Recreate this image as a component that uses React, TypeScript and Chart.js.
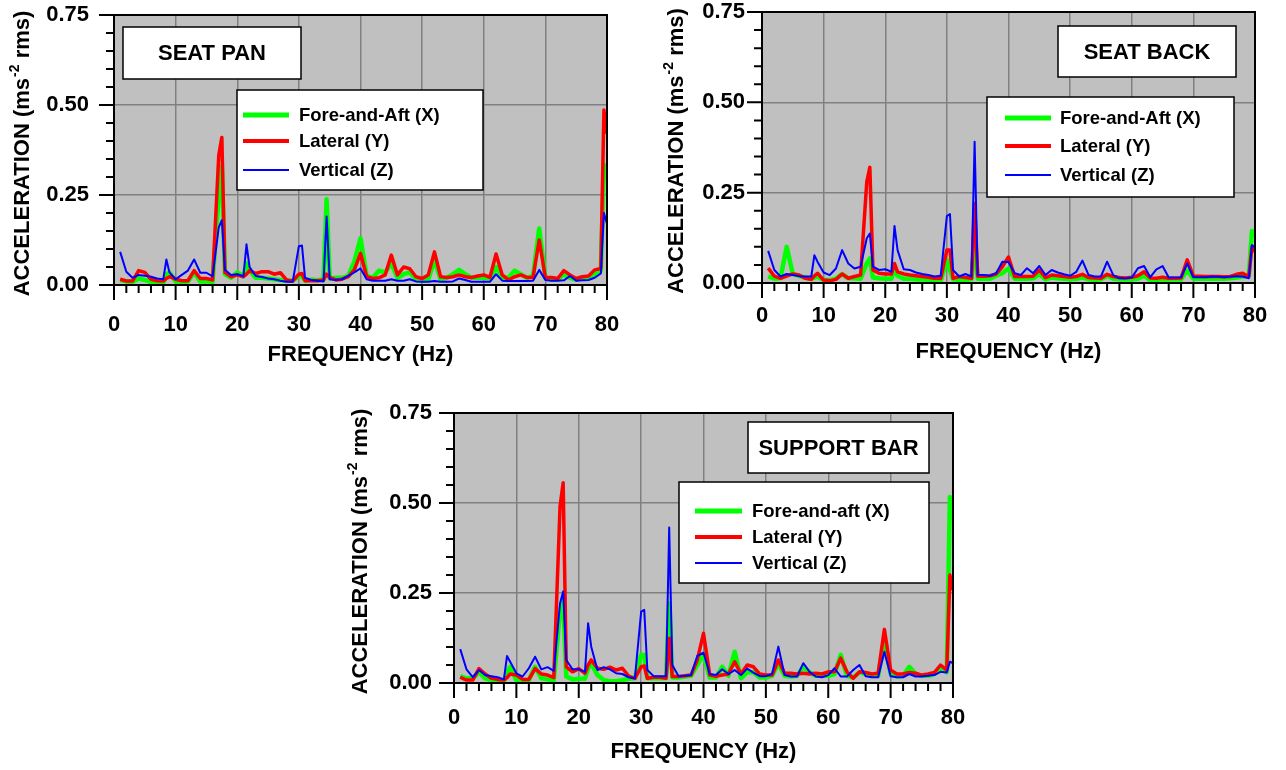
import React, { useEffect, useRef } from "react";
import { Chart, registerables } from "chart.js";

Chart.register(...registerables);

const FONT = '"Liberation Sans", Arial, Helvetica, sans-serif';
const GREEN = "#00ff00";
const RED = "#ff0000";
const BLUE = "#0000ff";

// Frequency grid (Hz), shared by all three measuring positions
const FREQ = [
  1, 2, 3, 4, 5, 6, 7, 8,
  8.5, 9, 10, 11, 12, 13, 14, 15, 16, 17,
  17.5, 18, 19, 20, 21,
  21.5, 22, 23, 24, 25, 26, 27, 28, 29, 30,
  30.5, 31, 32, 33, 34,
  34.5, 35, 36, 37, 38, 39, 40, 41, 42, 43, 44,
  45, 46, 47, 48, 49, 50, 51, 52, 53, 54,
  55, 56, 57, 58, 59, 60, 61, 62, 63, 64,
  65, 66, 67, 68, 69, 70, 71, 72, 73, 74,
  75, 76, 77, 78, 79,
  79.5, 80,
];

const X_TICK_STEP = 10;
const Y_TICK_STEP = 0.25;
const X_MAX = 80;
const Y_MAX = 0.75;

// Seat pan (ms^-2 rms)
const PAN_X = [
  0.014, 0.010, 0.008, 0.018, 0.014, 0.008, 0.006, 0.006,
  0.030, 0.035, 0.010, 0.008, 0.010, 0.035, 0.010, 0.010, 0.008, 0.250,
  0.330, 0.030, 0.020, 0.035, 0.025,
  0.060, 0.040, 0.020, 0.020, 0.018, 0.016, 0.014, 0.012, 0.012, 0.025,
  0.025, 0.012, 0.015, 0.013, 0.015,
  0.238, 0.018, 0.020, 0.020, 0.025, 0.065, 0.130, 0.025, 0.020, 0.040, 0.035,
  0.060, 0.020, 0.030, 0.035, 0.015, 0.012, 0.015, 0.070, 0.015, 0.020,
  0.030, 0.042, 0.030, 0.020, 0.020, 0.020, 0.018, 0.050, 0.020, 0.020,
  0.040, 0.030, 0.020, 0.025, 0.157, 0.020, 0.015, 0.015, 0.030, 0.020,
  0.015, 0.020, 0.020, 0.030, 0.040,
  0.333, 0.290,
];
const PAN_Y = [
  0.016, 0.011, 0.011, 0.040, 0.035, 0.016, 0.012, 0.011,
  0.018, 0.023, 0.016, 0.012, 0.012, 0.040, 0.018, 0.018, 0.014, 0.360,
  0.410, 0.035, 0.023, 0.028, 0.023,
  0.030, 0.040, 0.032, 0.037, 0.037, 0.030, 0.034, 0.014, 0.011, 0.030,
  0.032, 0.012, 0.012, 0.012, 0.014,
  0.030, 0.021, 0.014, 0.016, 0.023, 0.042, 0.088, 0.023, 0.018, 0.020, 0.028,
  0.083, 0.028, 0.050, 0.045, 0.023, 0.018, 0.028, 0.092, 0.023, 0.021,
  0.023, 0.028, 0.023, 0.021, 0.025, 0.028, 0.021, 0.086, 0.028, 0.014,
  0.023, 0.028, 0.021, 0.021, 0.125, 0.021, 0.021, 0.018, 0.040, 0.028,
  0.018, 0.023, 0.025, 0.042, 0.046,
  0.486, 0.420,
];
const PAN_Z = [
  0.092, 0.037, 0.020, 0.028, 0.026, 0.023, 0.018, 0.016,
  0.071, 0.035, 0.016, 0.028, 0.040, 0.071, 0.034, 0.034, 0.024, 0.160,
  0.180, 0.042, 0.028, 0.030, 0.024,
  0.113, 0.050, 0.025, 0.022, 0.018, 0.016, 0.012, 0.009, 0.009, 0.108,
  0.110, 0.020, 0.014, 0.012, 0.010,
  0.190, 0.016, 0.014, 0.016, 0.025, 0.035, 0.046, 0.016, 0.012, 0.012, 0.012,
  0.016, 0.012, 0.012, 0.016, 0.010, 0.009, 0.009, 0.011, 0.009, 0.009,
  0.010, 0.018, 0.014, 0.009, 0.009, 0.009, 0.009, 0.030, 0.012, 0.011,
  0.011, 0.011, 0.011, 0.012, 0.042, 0.014, 0.012, 0.012, 0.013, 0.025,
  0.012, 0.013, 0.014, 0.020, 0.032,
  0.200, 0.170,
];

// Seat back (ms^-2 rms)
const BACK_X = [
  0.018, 0.012, 0.013, 0.100, 0.025, 0.020, 0.015, 0.012,
  0.015, 0.018, 0.008, 0.008, 0.012, 0.025, 0.013, 0.013, 0.012, 0.054,
  0.068, 0.015, 0.013, 0.012, 0.012,
  0.040, 0.020, 0.012, 0.012, 0.010, 0.010, 0.008, 0.006, 0.006, 0.064,
  0.036, 0.010, 0.008, 0.008, 0.010,
  0.124, 0.012, 0.012, 0.012, 0.020, 0.027, 0.040, 0.012, 0.012, 0.012, 0.013,
  0.025, 0.010, 0.015, 0.013, 0.012, 0.010, 0.012, 0.015, 0.010, 0.008,
  0.010, 0.020, 0.012, 0.010, 0.010, 0.010, 0.012, 0.020, 0.008, 0.008,
  0.010, 0.010, 0.010, 0.010, 0.035, 0.012, 0.012, 0.012, 0.012, 0.012,
  0.012, 0.013, 0.015, 0.018, 0.020,
  0.144, 0.126,
];
const BACK_Y = [
  0.041, 0.019, 0.013, 0.019, 0.025, 0.022, 0.013, 0.010,
  0.020, 0.027, 0.008, 0.006, 0.010, 0.025, 0.013, 0.018, 0.022, 0.280,
  0.320, 0.036, 0.027, 0.025, 0.025,
  0.054, 0.031, 0.025, 0.022, 0.020, 0.018, 0.016, 0.013, 0.013, 0.091,
  0.091, 0.013, 0.018, 0.015, 0.013,
  0.220, 0.019, 0.019, 0.020, 0.025, 0.045, 0.072, 0.018, 0.018, 0.018, 0.019,
  0.036, 0.015, 0.022, 0.020, 0.018, 0.016, 0.018, 0.024, 0.015, 0.014,
  0.013, 0.024, 0.018, 0.015, 0.014, 0.016, 0.020, 0.031, 0.014, 0.013,
  0.016, 0.013, 0.013, 0.014, 0.064, 0.019, 0.019, 0.018, 0.018, 0.018,
  0.017, 0.018, 0.024, 0.027, 0.018,
  0.100, 0.086,
];
const BACK_Z = [
  0.089, 0.036, 0.018, 0.025, 0.022, 0.019, 0.018, 0.018,
  0.077, 0.059, 0.029, 0.022, 0.040, 0.091, 0.054, 0.040, 0.045, 0.124,
  0.137, 0.045, 0.036, 0.038, 0.031,
  0.158, 0.091, 0.038, 0.036, 0.029, 0.025, 0.022, 0.018, 0.020, 0.185,
  0.191, 0.036, 0.018, 0.025, 0.018,
  0.391, 0.022, 0.022, 0.020, 0.027, 0.059, 0.058, 0.027, 0.022, 0.041, 0.027,
  0.047, 0.022, 0.036, 0.029, 0.024, 0.020, 0.031, 0.062, 0.022, 0.018,
  0.018, 0.059, 0.022, 0.013, 0.013, 0.015, 0.041, 0.047, 0.016, 0.038,
  0.047, 0.015, 0.015, 0.016, 0.054, 0.016, 0.016, 0.016, 0.018, 0.017,
  0.016, 0.018, 0.019, 0.018, 0.013,
  0.105, 0.098,
];

// Support bar (ms^-2 rms)
const BAR_X = [
  0.019, 0.013, 0.013, 0.030, 0.013, 0.008, 0.006, 0.005,
  0.030, 0.045, 0.008, 0.006, 0.008, 0.045, 0.013, 0.010, 0.008, 0.200,
  0.230, 0.018, 0.010, 0.012, 0.012,
  0.040, 0.055, 0.022, 0.008, 0.005, 0.005, 0.008, 0.012, 0.013, 0.078,
  0.078, 0.013, 0.013, 0.013, 0.013,
  0.221, 0.015, 0.015, 0.018, 0.020, 0.050, 0.080, 0.015, 0.015, 0.045, 0.020,
  0.087, 0.013, 0.030, 0.030, 0.015, 0.015, 0.020, 0.055, 0.020, 0.018,
  0.020, 0.045, 0.030, 0.020, 0.020, 0.020, 0.025, 0.078, 0.020, 0.015,
  0.030, 0.025, 0.020, 0.020, 0.120, 0.025, 0.018, 0.020, 0.045, 0.025,
  0.020, 0.020, 0.025, 0.040, 0.030,
  0.517, 0.452,
];
const BAR_Y = [
  0.016, 0.008, 0.008, 0.040, 0.025, 0.013, 0.010, 0.008,
  0.015, 0.025, 0.022, 0.010, 0.010, 0.040, 0.025, 0.022, 0.015, 0.490,
  0.556, 0.045, 0.031, 0.040, 0.027,
  0.050, 0.064, 0.041, 0.038, 0.044, 0.036, 0.041, 0.019, 0.013, 0.045,
  0.047, 0.013, 0.016, 0.016, 0.013,
  0.124, 0.018, 0.018, 0.020, 0.022, 0.064, 0.138, 0.022, 0.019, 0.022, 0.025,
  0.059, 0.025, 0.050, 0.045, 0.025, 0.022, 0.022, 0.064, 0.027, 0.027,
  0.025, 0.027, 0.025, 0.027, 0.025, 0.031, 0.031, 0.069, 0.031, 0.013,
  0.031, 0.029, 0.025, 0.027, 0.149, 0.036, 0.025, 0.025, 0.029, 0.027,
  0.022, 0.025, 0.029, 0.050, 0.036,
  0.300, 0.258,
];
const BAR_Z = [
  0.094, 0.038, 0.016, 0.036, 0.022, 0.019, 0.016, 0.010,
  0.075, 0.059, 0.027, 0.018, 0.041, 0.073, 0.038, 0.044, 0.034, 0.221,
  0.254, 0.064, 0.038, 0.038, 0.031,
  0.166, 0.101, 0.036, 0.044, 0.038, 0.027, 0.025, 0.016, 0.013, 0.198,
  0.203, 0.036, 0.019, 0.019, 0.019,
  0.432, 0.050, 0.019, 0.020, 0.022, 0.075, 0.084, 0.025, 0.022, 0.038, 0.025,
  0.036, 0.022, 0.040, 0.029, 0.019, 0.019, 0.025, 0.101, 0.022, 0.018,
  0.018, 0.055, 0.031, 0.018, 0.016, 0.022, 0.041, 0.018, 0.018, 0.036,
  0.050, 0.019, 0.016, 0.016, 0.087, 0.019, 0.016, 0.016, 0.025, 0.018,
  0.018, 0.020, 0.022, 0.031, 0.029,
  0.059, 0.055,
];

const NAMES_SEAT = ["Fore-and-Aft (X)", "Lateral (Y)", "Vertical (Z)"];
const NAMES_BAR = ["Fore-and-aft (X)", "Lateral (Y)", "Vertical (Z)"];

const X_TITLE = "FREQUENCY (Hz)";
const Y_TITLE_MAIN = "ACCELERATION (ms";
const Y_TITLE_SUP = "-2";
const Y_TITLE_END = " rms)";

type Box = { l: number; t: number; r: number; b: number };
type Layout = {
  canvas: { left: number; top: number; w: number; h: number };
  area: Box;
  yTickPad: number;
  xTickPad: number;
  yTitleX: number;
  xTitleY: number;
  titleBox: Box;
  legend: Box & { line0: number; line1: number; textX: number; rows: number[] };
};
type Panel = {
  title: string;
  names: string[];
  x: number[];
  y: number[];
  z: number[];
  layout: Layout;
};

const PANELS: Panel[] = [
  {
    title: "SEAT PAN",
    names: NAMES_SEAT,
    x: PAN_X,
    y: PAN_Y,
    z: PAN_Z,
    layout: {
      canvas: { left: 0, top: 0, w: 645, h: 385 },
      area: { l: 114, t: 15, r: 607, b: 285 },
      yTickPad: 25,
      xTickPad: 27,
      yTitleX: 23,
      xTitleY: 355,
      titleBox: { l: 123, t: 27, r: 301, b: 79 },
      legend: { l: 237, t: 90, r: 483, b: 190, line0: 243, line1: 289, textX: 299, rows: [115, 141, 170] },
    },
  },
  {
    title: "SEAT BACK",
    names: NAMES_SEAT,
    x: BACK_X,
    y: BACK_Y,
    z: BACK_Z,
    layout: {
      canvas: { left: 648, top: 0, w: 638, h: 385 },
      area: { l: 762, t: 12, r: 1255, b: 283 },
      yTickPad: 17,
      xTickPad: 20,
      yTitleX: 677,
      xTitleY: 352,
      titleBox: { l: 1058, t: 26, r: 1236, b: 77 },
      legend: { l: 987, t: 97, r: 1234, b: 197, line0: 1005, line1: 1051, textX: 1060, rows: [118, 146, 175] },
    },
  },
  {
    title: "SUPPORT BAR",
    names: NAMES_BAR,
    x: BAR_X,
    y: BAR_Y,
    z: BAR_Z,
    layout: {
      canvas: { left: 330, top: 390, w: 640, h: 380 },
      area: { l: 454, t: 413, r: 953, b: 683 },
      yTickPad: 22,
      xTickPad: 22,
      yTitleX: 361,
      xTitleY: 752,
      titleBox: { l: 748, t: 422, r: 929, b: 473 },
      legend: { l: 679, t: 482, r: 929, b: 583, line0: 695, line1: 742, textX: 752, rows: [511, 537, 563] },
    },
  },
];

const LEGEND_WIDTHS = [5, 4, 2];

function buildChart(canvas: HTMLCanvasElement, panel: Panel) {
  const L = panel.layout;
  const c = L.canvas;
  const ox = (px: number) => px - c.left;
  const oy = (py: number) => py - c.top;
  const pts = (vals: number[]) => FREQ.map((f, i) => ({ x: f, y: vals[i] }));

  const decor = {
    id: "panelDecor",
    beforeDraw(chart: any) {
      const { ctx, chartArea: a } = chart;
      ctx.save();
      ctx.fillStyle = "#c0c0c0";
      ctx.fillRect(a.left, a.top, a.right - a.left, a.bottom - a.top);
      ctx.restore();
    },
    afterDraw(chart: any) {
      const { ctx, chartArea: a } = chart;
      const xs = chart.scales.x;
      const ys = chart.scales.y;
      ctx.save();

      // frame
      ctx.strokeStyle = "#000";
      ctx.lineWidth = 2;
      ctx.strokeRect(a.left, a.top, a.right - a.left, a.bottom - a.top);

      // outward major / minor tick marks
      ctx.lineWidth = 2;
      ctx.beginPath();
      for (let k = 0; k <= 40; k++) {
        const px = xs.getPixelForValue(k * 2);
        const len = k % 5 === 0 ? 15 : 8;
        ctx.moveTo(px, a.bottom);
        ctx.lineTo(px, a.bottom + len);
      }
      for (let k = 0; k <= 15; k++) {
        const py = ys.getPixelForValue(k * 0.05);
        const len = k % 5 === 0 ? 15 : 8;
        ctx.moveTo(a.left, py);
        ctx.lineTo(a.left - len, py);
      }
      ctx.stroke();

      // axis titles
      ctx.fillStyle = "#000";
      ctx.font = `bold 22px ${FONT}`;
      ctx.textAlign = "center";
      ctx.textBaseline = "middle";
      ctx.fillText(X_TITLE, (a.left + a.right) / 2, oy(L.xTitleY));

      ctx.save();
      ctx.translate(ox(L.yTitleX), (a.top + a.bottom) / 2 + 4);
      ctx.rotate(-Math.PI / 2);
      ctx.textAlign = "left";
      const mainFont = `bold 22px ${FONT}`;
      const supFont = `bold 14px ${FONT}`;
      ctx.font = mainFont;
      const w1 = ctx.measureText(Y_TITLE_MAIN).width;
      const w3 = ctx.measureText(Y_TITLE_END).width;
      ctx.font = supFont;
      const w2 = ctx.measureText(Y_TITLE_SUP).width;
      const start = -(w1 + w2 + w3) / 2;
      ctx.font = mainFont;
      ctx.fillText(Y_TITLE_MAIN, start, 0);
      ctx.font = supFont;
      ctx.fillText(Y_TITLE_SUP, start + w1 + 1, -8);
      ctx.font = mainFont;
      ctx.fillText(Y_TITLE_END, start + w1 + w2 + 1, 0);
      ctx.restore();

      // title box
      const tb = L.titleBox;
      ctx.fillStyle = "#fff";
      ctx.fillRect(ox(tb.l), oy(tb.t), tb.r - tb.l, tb.b - tb.t);
      ctx.strokeStyle = "#000";
      ctx.lineWidth = 1.5;
      ctx.strokeRect(ox(tb.l), oy(tb.t), tb.r - tb.l, tb.b - tb.t);
      ctx.fillStyle = "#000";
      ctx.font = `bold 22px ${FONT}`;
      ctx.textAlign = "center";
      ctx.fillText(panel.title, ox((tb.l + tb.r) / 2), oy((tb.t + tb.b) / 2 + 1));

      // legend
      const lg = L.legend;
      ctx.fillStyle = "#fff";
      ctx.fillRect(ox(lg.l), oy(lg.t), lg.r - lg.l, lg.b - lg.t);
      ctx.strokeRect(ox(lg.l), oy(lg.t), lg.r - lg.l, lg.b - lg.t);
      ctx.font = `bold 18.5px ${FONT}`;
      ctx.textAlign = "left";
      chart.data.datasets.forEach((ds: any, i: number) => {
        const ry = oy(lg.rows[i]);
        ctx.strokeStyle = ds.borderColor;
        ctx.lineWidth = LEGEND_WIDTHS[i];
        ctx.beginPath();
        ctx.moveTo(ox(lg.line0), ry);
        ctx.lineTo(ox(lg.line1), ry);
        ctx.stroke();
        ctx.fillStyle = "#000";
        ctx.fillText(ds.label, ox(lg.textX), ry + 1);
      });
      ctx.restore();
    },
  };

  const tickFont = { family: FONT, size: 22, weight: "bold" as const };
  // keep the plot rectangle fixed: no extra room for overhanging labels
  const noOverhang = (s: any) => {
    s.paddingTop = 0;
    s.paddingBottom = 0;
    s.paddingLeft = 0;
    s.paddingRight = 0;
  };

  return new Chart(canvas, {
    type: "line",
    data: {
      datasets: [
        { label: panel.names[0], data: pts(panel.x), borderColor: GREEN, borderWidth: 4.5, order: 3 },
        { label: panel.names[1], data: pts(panel.y), borderColor: RED, borderWidth: 3.5, order: 2 },
        { label: panel.names[2], data: pts(panel.z), borderColor: BLUE, borderWidth: 2, order: 1 },
      ].map((d) => ({ ...d, pointRadius: 0, tension: 0, fill: false, borderJoinStyle: "round" as const })),
    },
    options: {
      animation: false,
      responsive: false,
      devicePixelRatio: 1,
      events: [],
      layout: {
        padding: { top: L.area.t - c.top, right: c.left + c.w - L.area.r, left: 0, bottom: 0 },
      },
      plugins: { legend: { display: false }, tooltip: { enabled: false }, title: { display: false } },
      scales: {
        x: {
          type: "linear",
          min: 0,
          max: X_MAX,
          ticks: { stepSize: X_TICK_STEP, color: "#000", font: tickFont, padding: L.xTickPad, maxRotation: 0 },
          grid: { color: "#808080", lineWidth: 1.5, drawTicks: false },
          border: { display: false },
          afterFit: (s: any) => {
            s.height = c.top + c.h - L.area.b;
            noOverhang(s);
          },
        },
        y: {
          type: "linear",
          min: 0,
          max: Y_MAX,
          ticks: {
            stepSize: Y_TICK_STEP,
            color: "#000",
            font: tickFont,
            padding: L.yTickPad,
            callback: (v: any) => Number(v).toFixed(2),
          },
          grid: { color: "#808080", lineWidth: 1.5, drawTicks: false },
          border: { display: false },
          afterFit: (s: any) => {
            s.width = L.area.l - c.left;
            noOverhang(s);
          },
        },
      },
    },
    plugins: [decor],
  } as any);
}

function PanelChart({ panel }: { panel: Panel }) {
  const ref = useRef<HTMLCanvasElement | null>(null);
  useEffect(() => {
    if (!ref.current) return;
    const chart = buildChart(ref.current, panel);
    return () => chart.destroy();
  }, [panel]);
  const c = panel.layout.canvas;
  return (
    <canvas
      ref={ref}
      width={c.w}
      height={c.h}
      style={{ position: "absolute", left: c.left, top: c.top, width: c.w, height: c.h }}
    />
  );
}

export default function App() {
  return (
    <div style={{ position: "absolute", left: 0, top: 0, width: 1286, height: 770, background: "#fff" }}>
      {PANELS.map((p) => (
        <PanelChart key={p.title} panel={p} />
      ))}
    </div>
  );
}
